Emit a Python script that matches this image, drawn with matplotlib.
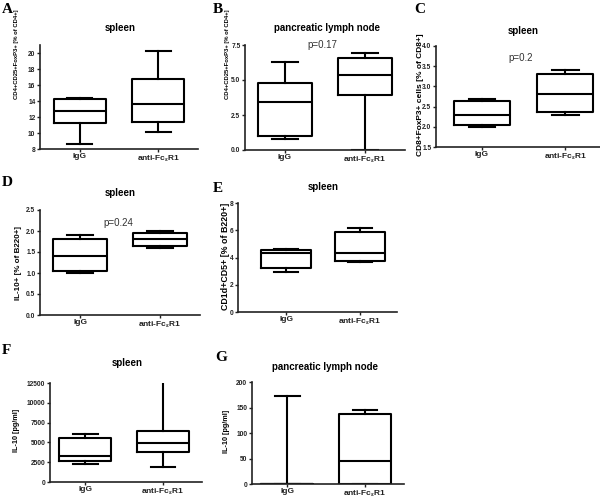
import numpy as np
import matplotlib
matplotlib.use("Agg")
import matplotlib.pyplot as plt

plt.rcParams["font.family"] = ["Liberation Sans", "DejaVu Sans"]
plt.rcParams["font.weight"] = "bold"
plt.rcParams["mathtext.fontset"] = "custom"
plt.rcParams["mathtext.rm"] = "Liberation Sans:bold"
plt.rcParams["mathtext.it"] = "Liberation Sans:bold"

# box stats: whisker low, q1, median, q3, whisker high
groups = ["IgG", r"anti-Fc$_\varepsilon$R1"]
a_igg = [8.6, 11.2, 12.8, 14.3, 14.4]
a_anti = [10.1, 11.4, 13.6, 16.7, 20.3]
b_igg = [0.8, 1.0, 3.45, 4.75, 6.3]
b_anti = [0.0, 3.9, 5.35, 6.6, 6.9]
c_igg = [2.0, 2.05, 2.3, 2.63, 2.7]
c_anti = [2.3, 2.37, 2.8, 3.3, 3.4]
d_igg = [1.0, 1.05, 1.4, 1.82, 1.9]
d_anti = [1.6, 1.64, 1.8, 1.95, 2.0]
e_igg = [2.9, 3.2, 4.35, 4.55, 4.6]
e_anti = [3.7, 3.75, 4.35, 5.85, 6.2]
f_igg = [2300, 2600, 3300, 5500, 6100]
f_anti = [1900, 3800, 4950, 6400, 12800]
g_igg = [0, 0, 0, 0, 172]
g_anti = [0, 0, 45, 137, 145]

W, H = 600, 498
fig = plt.figure(figsize=(6, 4.98), dpi=100)


def px(x, y):
    return x / W, 1 - y / H


def stats(v):
    return dict(whislo=v[0], q1=v[1], med=v[2], q3=v[3], whishi=v[4], fliers=[])


def panel(box, xlim, ylim, yticks, fmt, igg, anti, letter, lpos,
          title, tpos, ylabel, ypos, ysize, pval=None, ppos=None):
    left, right, top, bottom = box
    ax = fig.add_axes([left / W, 1 - bottom / H, (right - left) / W, (bottom - top) / H])
    lw = 1.5
    ax.bxp([stats(igg), stats(anti)], positions=[1, 2], widths=0.67, capwidths=0.32,
           showfliers=False,
           boxprops=dict(color="black", linewidth=lw),
           whiskerprops=dict(color="black", linewidth=lw),
           capprops=dict(color="black", linewidth=lw),
           medianprops=dict(color="black", linewidth=lw))
    ax.set_xlim(*xlim)
    ax.set_ylim(*ylim)
    ax.set_yticks(yticks)
    ax.set_yticklabels([fmt.format(t) for t in yticks], fontsize=4.8, fontweight="bold")
    ax.set_xticks([1, 2])
    ax.set_xticklabels(groups, fontsize=6, fontweight="bold")
    for s in ["top", "right"]:
        ax.spines[s].set_visible(False)
    for s in ["left", "bottom"]:
        ax.spines[s].set_linewidth(1.2)
        ax.spines[s].set_color("#222222")
    ax.tick_params(axis="y", length=2.5, width=1, pad=0.8, colors="#222222")
    ax.tick_params(axis="x", length=2, width=1, pad=1.2, colors="#222222")
    fig.text(*px(*lpos), letter, family="Liberation Serif", fontsize=11,
             fontweight="bold", ha="left", va="top")
    fig.text(*px(*tpos), title, fontsize=7, fontweight="bold", ha="center", va="center")
    fig.text(*px(*ypos), ylabel, fontsize=ysize, fontweight="bold",
             rotation=90, ha="center", va="center")
    if pval:
        fig.text(*px(*ppos), pval, fontsize=7, fontweight="normal", color="#333333",
                 ha="center", va="center")
    return ax


panel((40, 198, 45, 149), (0.49, 2.51), (8, 21), np.arange(8, 21, 2), "{:.0f}",
      a_igg, a_anti, "A", (2, 3), "spleen", (120, 28),
      "CD4+CD25+FoxP3+ [% of CD4+]", (17, 54), 4.2)
panel((245, 405, 45, 150), (0.5, 2.5), (0, 7.5), [0, 2.5, 5.0, 7.5], "{:.1f}",
      b_igg, b_anti, "B", (213, 3), "pancreatic lymph node", (327, 28),
      "CD4+CD25+FoxP3+ [% of CD4+]", (228, 54), 4.2, "p=0.17", (322, 45))
panel((436, 607, 46, 147), (0.45, 2.5), (1.5, 4.0), [1.5, 2.0, 2.5, 3.0, 3.5, 4.0], "{:.1f}",
      c_igg, c_anti, "C", (414, 3), "spleen", (523, 31),
      "CD8+FoxP3+ cells [% of CD8+]", (420, 95), 6.0, "p=0.2", (521, 58))
panel((40, 200, 210, 315), (0.5, 2.5), (0, 2.5), [0, 0.5, 1.0, 1.5, 2.0, 2.5], "{:.1f}",
      d_igg, d_anti, "D", (2, 176), "spleen", (120, 193),
      "IL-10+ [% of B220+]", (19, 263), 5.8, "p=0.24", (118, 223))
panel((238, 397, 203, 312), (0.35, 2.5), (0, 8), [0, 2, 4, 6, 8], "{:.0f}",
      e_igg, e_anti, "E", (213, 182), "spleen", (323, 187),
      "CD1d+CD5+ [% of B220+]", (226, 256), 6.4)
panel((50, 202, 383, 482), (0.55, 2.5), (0, 12500), [0, 2500, 5000, 7500, 10000, 12500], "{:.0f}",
      f_igg, f_anti, "F", (2, 344), "spleen", (127, 363),
      "IL-10 [pg/ml]", (17, 430), 5.2)
panel((252, 404, 382, 484), (0.55, 2.5), (0, 200), [0, 50, 100, 150, 200], "{:.0f}",
      g_igg, g_anti, "G", (215, 351), "pancreatic lymph node", (325, 367),
      "IL-10 [pg/ml]", (227, 431), 5.2)

fig.savefig("out.png", dpi=100)
